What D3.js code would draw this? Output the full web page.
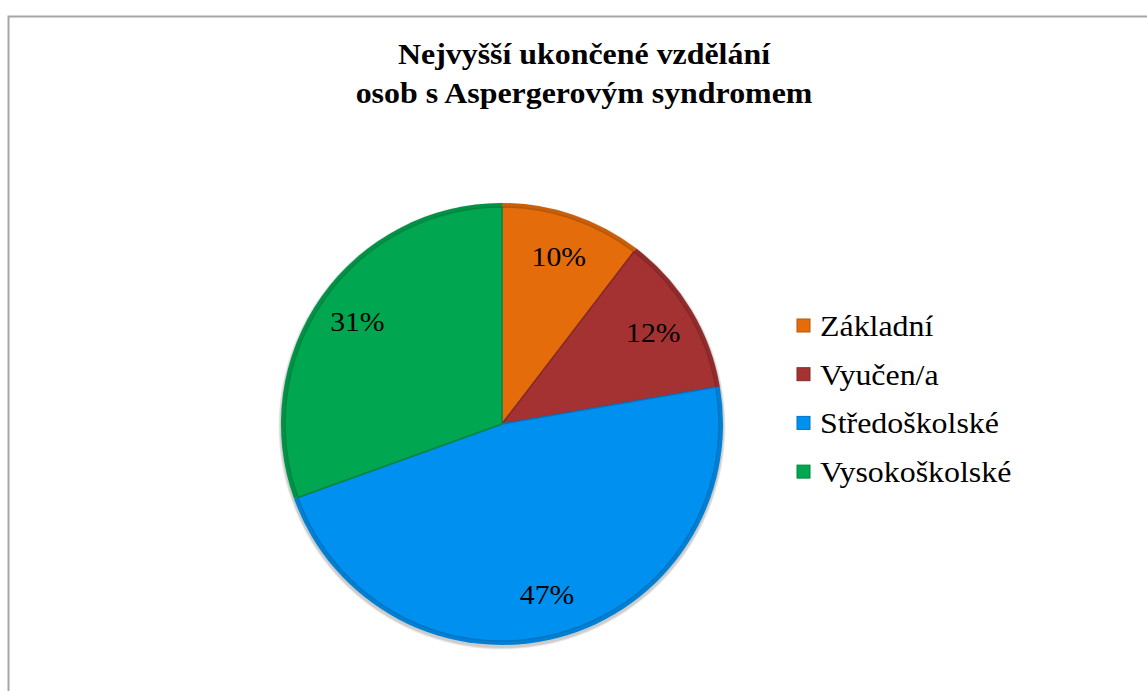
<!DOCTYPE html>
<html>
<head>
<meta charset="utf-8">
<script src="https://cdn.jsdelivr.net/npm/d3@7"></script>
</head>
<body style="margin:0">
<script>
var categories = ["Základní", "Vyučen/a", "Středoškolské", "Vysokoškolské"];
var shares = [10.4, 11.9, 47.2, 30.5];
var labels = ["10%", "12%", "47%", "31%"];
var colors = ["#E46C0A", "#A53232", "#0091F0", "#00A650"];
var titleLines = ["Nejvyšší ukončené vzdělání", "osob s Aspergerovým syndromem"];

var W = 1147, H = 691;
var cx = 502, cy = 424, r = 221;
var serif = "Liberation Serif";
var sx = 1.1; // text in the source is a bit wide

var svg = d3.select("body").append("svg")
  .attr("width", W).attr("height", H);

// chart frame
svg.append("rect")
  .attr("x", 8.5).attr("y", 16.5)
  .attr("width", W).attr("height", H)
  .attr("fill", "#fff").attr("stroke", "#a6a6a6").attr("stroke-width", 2);

// title
svg.selectAll(".title").data(titleLines).enter().append("text")
  .attr("class", "title")
  .attr("transform", function (d, i) { return "translate(584," + (64 + i * 39) + ") scale(" + sx + ",1)"; })
  .attr("text-anchor", "middle")
  .attr("font-family", serif)
  .attr("font-size", 29).attr("font-weight", "bold")
  .text(function (d) { return d; });

var pie = d3.pie().sort(null).value(function (d) { return d; });
var arcs = pie(shares);
var arc = d3.arc().innerRadius(0).outerRadius(r);
var inner = d3.arc().innerRadius(0).outerRadius(r - 4);
var labelArc = d3.arc().innerRadius(r * 0.8).outerRadius(r * 0.8);

var g = svg.append("g").attr("transform", "translate(" + cx + "," + cy + ")");

// soft shadow under the pie
[5, 3.5, 2].forEach(function (w) {
  g.append("circle").attr("cy", 2).attr("r", r + w / 2)
    .attr("fill", "#000").attr("fill-opacity", 0.07);
});

g.selectAll(".slice").data(arcs).enter().append("path")
  .attr("class", "slice")
  .attr("d", arc)
  .attr("fill", function (d, i) { return d3.color(colors[i]).darker(0.35); });

g.selectAll(".face").data(arcs).enter().append("path")
  .attr("class", "face")
  .attr("d", inner)
  .attr("fill", function (d, i) { return colors[i]; })
  .attr("stroke", function (d, i) { return d3.color(colors[i]).darker(0.6); })
  .attr("stroke-width", 1.5)
  .attr("stroke-linejoin", "round");

g.selectAll(".lbl").data(arcs).enter().append("text")
  .attr("class", "lbl")
  .attr("transform", function (d) {
    var c = labelArc.centroid(d);
    return "translate(" + c[0] + "," + (c[1] + 9) + ") scale(" + sx + ",1)";
  })
  .attr("text-anchor", "middle")
  .attr("font-family", serif)
  .attr("font-size", 27)
  .text(function (d, i) { return labels[i]; });

// legend
var leg = svg.append("g").attr("transform", "translate(797,319)");
var item = leg.selectAll(".item").data(categories).enter().append("g")
  .attr("class", "item")
  .attr("transform", function (d, i) { return "translate(0," + i * 48.7 + ")"; });
item.append("rect")
  .attr("width", 13).attr("height", 13)
  .attr("fill", function (d, i) { return colors[i]; })
  .attr("stroke", function (d, i) { return d3.color(colors[i]).darker(0.6); })
  .attr("stroke-width", 1);
item.append("text")
  .attr("transform", "translate(23,17) scale(" + sx + ",1)")
  .attr("font-family", serif)
  .attr("font-size", 29)
  .text(function (d) { return d; });
</script>
</body>
</html>
